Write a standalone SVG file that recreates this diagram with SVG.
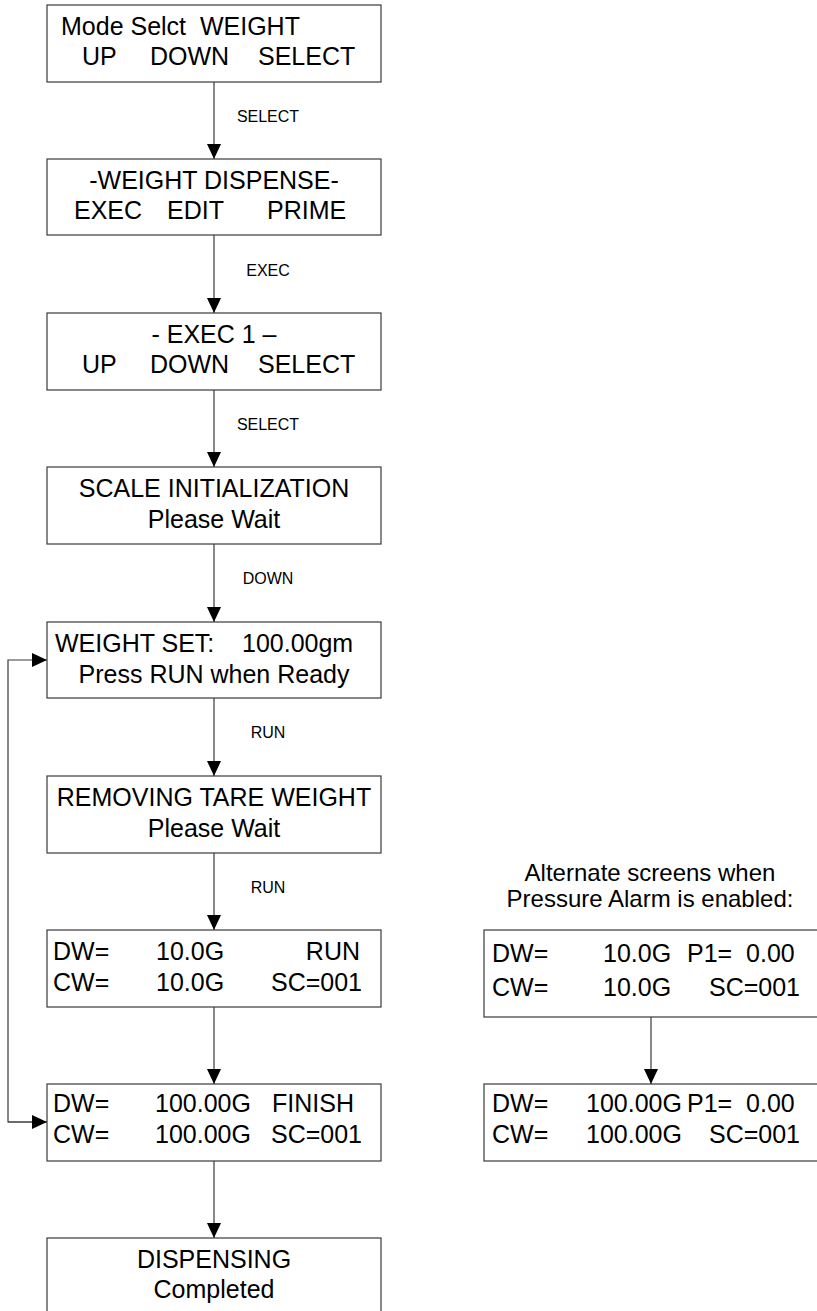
<svg xmlns="http://www.w3.org/2000/svg" width="817" height="1311" viewBox="0 0 817 1311">
  <defs>
    <style>
      .box { fill: #ffffff; stroke: #3a3a3a; stroke-width: 1.2; }
      .t { font-family: "Liberation Sans", Arial, sans-serif; font-size: 25px; fill: #000; white-space: pre; }
      .c { text-anchor: middle; }
      .e { text-anchor: end; }
      .note { font-family: "Liberation Sans", Arial, sans-serif; font-size: 24px; fill: #000; text-anchor: middle; }
      .lbl { font-family: "Liberation Sans", Arial, sans-serif; font-size: 16px; fill: #000; text-anchor: middle; }
      .wire { fill: none; stroke: #3a3a3a; stroke-width: 1.2; }
    </style>
    <marker id="arrow" viewBox="0 0 15 14" refX="15" refY="7" markerWidth="15" markerHeight="14" markerUnits="userSpaceOnUse" orient="auto">
      <path d="M0,0 L15,7 L0,14 Z" fill="#000"/>
    </marker>
  </defs>
  <rect width="817" height="1311" fill="#fff"/>

  <!-- connectors -->
  <g id="connectors">
    <line class="wire" x1="214" y1="82" x2="214" y2="159" marker-end="url(#arrow)"/>
    <text class="lbl" x="268" y="122">SELECT</text>
    <line class="wire" x1="214" y1="235" x2="214" y2="313" marker-end="url(#arrow)"/>
    <text class="lbl" x="268" y="276">EXEC</text>
    <line class="wire" x1="214" y1="390" x2="214" y2="467" marker-end="url(#arrow)"/>
    <text class="lbl" x="268" y="430">SELECT</text>
    <line class="wire" x1="214" y1="544" x2="214" y2="622" marker-end="url(#arrow)"/>
    <text class="lbl" x="268" y="584">DOWN</text>
    <line class="wire" x1="214" y1="698" x2="214" y2="776" marker-end="url(#arrow)"/>
    <text class="lbl" x="268" y="738">RUN</text>
    <line class="wire" x1="214" y1="853" x2="214" y2="930" marker-end="url(#arrow)"/>
    <text class="lbl" x="268" y="893">RUN</text>
    <line class="wire" x1="214" y1="1007" x2="214" y2="1084" marker-end="url(#arrow)"/>
    <line class="wire" x1="214" y1="1161" x2="214" y2="1238" marker-end="url(#arrow)"/>
    <line class="wire" x1="651" y1="1017" x2="651" y2="1084" marker-end="url(#arrow)"/>
    <!-- return path from the FINISH screen back to WEIGHT SET -->
    <path class="wire" d="M47,1122 H8 V660 H47" marker-end="url(#arrow)"/>
    <line class="wire" x1="8" y1="1122" x2="47" y2="1122" marker-end="url(#arrow)"/>
  </g>

  <g id="mode-select">
    <rect class="box" x="47" y="5" width="334" height="77"/>
    <text class="t" x="61" y="35" xml:space="preserve">Mode Selct  WEIGHT</text>
    <text class="t" x="82" y="65">UP</text>
    <text class="t" x="150" y="65">DOWN</text>
    <text class="t" x="258" y="65">SELECT</text>
  </g>

  <g id="weight-dispense">
    <rect class="box" x="47" y="159" width="334" height="76"/>
    <text class="t c" x="214" y="189">-WEIGHT DISPENSE-</text>
    <text class="t" x="74" y="219">EXEC</text>
    <text class="t" x="167" y="219">EDIT</text>
    <text class="t" x="267" y="219">PRIME</text>
  </g>

  <g id="exec-1">
    <rect class="box" x="47" y="313" width="334" height="77"/>
    <text class="t c" x="214" y="343">- EXEC 1 –</text>
    <text class="t" x="82" y="373">UP</text>
    <text class="t" x="150" y="373">DOWN</text>
    <text class="t" x="258" y="373">SELECT</text>
  </g>

  <g id="scale-init">
    <rect class="box" x="47" y="467" width="334" height="77"/>
    <text class="t c" x="214" y="497">SCALE INITIALIZATION</text>
    <text class="t c" x="214" y="528">Please Wait</text>
  </g>

  <g id="weight-set">
    <rect class="box" x="47" y="622" width="334" height="76"/>
    <text class="t" x="55" y="652">WEIGHT SET:</text>
    <text class="t" x="242" y="652">100.00gm</text>
    <text class="t c" x="214" y="683">Press RUN when Ready</text>
  </g>

  <g id="removing-tare">
    <rect class="box" x="47" y="776" width="334" height="77"/>
    <text class="t c" x="214" y="806">REMOVING TARE WEIGHT</text>
    <text class="t c" x="214" y="837">Please Wait</text>
  </g>

  <g id="run-screen">
    <rect class="box" x="47" y="930" width="334" height="77"/>
    <text class="t" x="53" y="960">DW=</text>
    <text class="t" x="156" y="960">10.0G</text>
    <text class="t e" x="360" y="960">RUN</text>
    <text class="t" x="53" y="991">CW=</text>
    <text class="t" x="156" y="991">10.0G</text>
    <text class="t e" x="362" y="991">SC=001</text>
  </g>

  <g id="finish-screen">
    <rect class="box" x="47" y="1084" width="334" height="77"/>
    <text class="t" x="53" y="1112">DW=</text>
    <text class="t" x="155" y="1112">100.00G</text>
    <text class="t" x="272" y="1112">FINISH</text>
    <text class="t" x="53" y="1143">CW=</text>
    <text class="t" x="155" y="1143">100.00G</text>
    <text class="t e" x="362" y="1143">SC=001</text>
  </g>

  <g id="dispensing-done">
    <rect class="box" x="47" y="1238" width="334" height="77"/>
    <text class="t c" x="214" y="1268">DISPENSING</text>
    <text class="t c" x="214" y="1298">Completed</text>
  </g>

  <g id="alarm-note">
    <text class="note" x="650" y="881">Alternate screens when</text>
    <text class="note" x="650" y="907">Pressure Alarm is enabled:</text>
  </g>

  <g id="alarm-run-screen">
    <rect class="box" x="484" y="930" width="334" height="87"/>
    <text class="t" x="492" y="962">DW=</text>
    <text class="t" x="603" y="962">10.0G</text>
    <text class="t" x="687" y="962" xml:space="preserve">P1=  0.00</text>
    <text class="t" x="492" y="996">CW=</text>
    <text class="t" x="603" y="996">10.0G</text>
    <text class="t e" x="800" y="996">SC=001</text>
  </g>

  <g id="alarm-finish-screen">
    <rect class="box" x="484" y="1084" width="334" height="77"/>
    <text class="t" x="492" y="1112">DW=</text>
    <text class="t" x="586" y="1112">100.00G</text>
    <text class="t" x="687" y="1112" xml:space="preserve">P1=  0.00</text>
    <text class="t" x="492" y="1143">CW=</text>
    <text class="t" x="586" y="1143">100.00G</text>
    <text class="t e" x="800" y="1143">SC=001</text>
  </g>
</svg>
